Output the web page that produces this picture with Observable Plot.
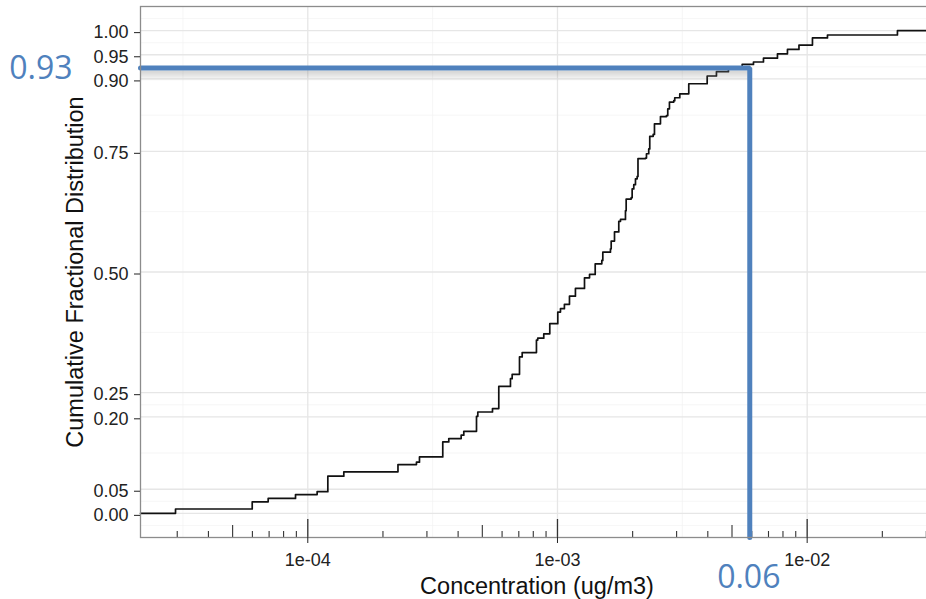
<!DOCTYPE html>
<html><head><meta charset="utf-8">
<script src="https://cdn.jsdelivr.net/npm/d3@7"></script>
<script src="https://cdn.jsdelivr.net/npm/@observablehq/plot@0.6"></script>
<style>
html,body{margin:0;padding:0;background:#fff;overflow:hidden;width:926px;height:599px}
#chart{position:absolute;left:0;top:0;width:933px}
#chart svg{max-width:none !important;width:933px;height:599px}
</style></head><body><div id="chart"></div>
<script>
// ECDF step locations (ug/m3) and cumulative fraction after each step
const concentration = [
  2.953e-5, 5.99e-5, 6.94e-5, 8.93e-5, 1.090e-4, 1.203e-4, 1.394e-4, 2.297e-4, 2.724e-4, 2.801e-4,
  3.472e-4, 3.670e-4, 4.114e-4, 4.215e-4, 4.739e-4, 4.796e-4, 5.492e-4, 5.820e-4, 6.482e-4, 6.585e-4,
  7.045e-4, 7.222e-4, 8.237e-4, 8.336e-4, 8.812e-4, 9.315e-4, 1.0028e-3, 1.028e-3, 1.066e-3, 1.117e-3,
  1.180e-3, 1.283e-3, 1.344e-3, 1.416e-3, 1.505e-3, 1.519e-3, 1.630e-3, 1.641e-3, 1.692e-3, 1.760e-3,
  1.788e-3, 1.872e-3, 1.884e-3, 1.973e-3, 1.991e-3, 2.021e-3, 2.053e-3, 2.085e-3, 2.101e-3, 2.251e-3,
  2.272e-3, 2.320e-3, 2.342e-3, 2.417e-3, 2.446e-3, 2.585e-3, 2.732e-3, 2.765e-3, 2.808e-3, 2.922e-3,
  2.949e-3, 3.089e-3, 3.356e-3, 3.977e-3, 4.332e-3, 4.838e-3, 5.491e-3, 6.095e-3, 6.683e-3, 7.604e-3,
  8.338e-3, 9.272e-3, 1.050e-2, 1.206e-2, 2.299e-2
];
const cumulativeFraction = [
  0.009, 0.024, 0.031, 0.039, 0.045, 0.077, 0.086, 0.101, 0.106, 0.117,
  0.148, 0.155, 0.162, 0.170, 0.201, 0.210, 0.217, 0.263, 0.279, 0.288,
  0.324, 0.333, 0.359, 0.363, 0.372, 0.393, 0.417, 0.424, 0.433, 0.450,
  0.466, 0.488, 0.495, 0.517, 0.524, 0.541, 0.548, 0.564, 0.583, 0.605,
  0.609, 0.627, 0.651, 0.654, 0.672, 0.681, 0.693, 0.698, 0.735, 0.736,
  0.745, 0.755, 0.781, 0.785, 0.807, 0.822, 0.824, 0.838, 0.852, 0.855,
  0.861, 0.869, 0.890, 0.906, 0.915, 0.923, 0.930, 0.935, 0.943, 0.952,
  0.961, 0.970, 0.985, 0.991, 1.0
];
const yTicks = [0, 0.05, 0.2, 0.25, 0.5, 0.75, 0.9, 0.95, 1];
const yMinorGrid = [-0.025, 0.025, 0.125, 0.225, 0.375, 0.625, 0.825, 0.925, 0.975, 1.025];
const xTicks = [1e-4, 1e-3, 1e-2];
const xTickLabels = ["1e-04", "1e-03", "1e-02"];
const xMinorGrid = [3.162e-5, 3.162e-4, 3.162e-3, 3.162e-2];
const logTicks = [
  3e-5, 4e-5, 5e-5, 6e-5, 7e-5, 8e-5, 9e-5,
  1e-4, 2e-4, 3e-4, 4e-4, 5e-4, 6e-4, 7e-4, 8e-4, 9e-4,
  1e-3, 2e-3, 3e-3, 4e-3, 5e-3, 6e-3, 7e-3, 8e-3, 9e-3,
  1e-2, 2e-2, 3e-2
];
const refPoint = {x: 0.00589, y: 0.9224};
const refLabels = ["0.93", "0.06"];
const xDomain = [2.138e-5, 3.206e-2];
const yDomain = [-0.05, 1.05];
const xTitle = "Concentration (ug/m3)";
const yTitle = "Cumulative Fractional Distribution";

const blue = "#4F81BD";
const frameH = 531;
const mant = d => Math.round(d / Math.pow(10, Math.floor(Math.log10(d) + 1e-9)));

const ecdf = [{x: xDomain[0], y: 0}]
  .concat(concentration.map((c, i) => ({x: c, y: cumulativeFraction[i]})))
  .concat([{x: xDomain[1], y: cumulativeFraction[cumulativeFraction.length - 1]}]);

const refPath = [
  {x: xDomain[0], y: refPoint.y},
  {x: refPoint.x, y: refPoint.y},
  {x: refPoint.x, y: yDomain[0]}
];
const shadowRows = [3,4,5,6,7,8,9,10,11,12].map((k, i) => ({x1: xDomain[0], x2: refPoint.x, y: refPoint.y, dy: k, o: 0.34 * (1 - i / 10)}));

const chart = Plot.plot({
  width: 933, height: 599,
  marginTop: 6, marginBottom: 62, marginLeft: 140, marginRight: 0,
  x: {type: "log", domain: xDomain},
  y: {domain: yDomain},
  style: {fontFamily: "'Liberation Sans', Arial, sans-serif", background: "white", overflow: "visible", maxWidth: "none"},
  marks: [
    Plot.ruleY(yMinorGrid, {stroke: "#f2f2f2", strokeWidth: 0.7}),
    Plot.ruleX(xMinorGrid, {stroke: "#f2f2f2", strokeWidth: 0.7}),
    Plot.ruleY(yTicks, {stroke: "#e6e6e6", strokeWidth: 1.3}),
    Plot.ruleX(xTicks, {stroke: "#e6e6e6", strokeWidth: 1.3}),
    Plot.tickX(logTicks.filter(d => mant(d) === 1 || mant(d) === 10), {x: d => d, insetTop: frameH - 18, stroke: "#333", strokeWidth: 1.3}),
    Plot.tickX(logTicks.filter(d => mant(d) === 5), {x: d => d, insetTop: frameH - 12, stroke: "#333", strokeWidth: 1.1}),
    Plot.tickX(logTicks.filter(d => mant(d) !== 1 && mant(d) !== 10 && mant(d) !== 5), {x: d => d, insetTop: frameH - 6, stroke: "#333", strokeWidth: 1.1}),
    Plot.line(ecdf, {x: "x", y: "y", curve: "step-after", stroke: "#111", strokeWidth: 1.7}),
    ...shadowRows.map(r => Plot.ruleY([r], {x1: "x1", x2: "x2", y: "y", dy: r.dy, stroke: "#7a7a7a", strokeOpacity: r.o, strokeWidth: 1})),
    Plot.line(refPath, {x: "x", y: "y", stroke: blue, strokeWidth: 5, strokeLinejoin: "miter"}),
    Plot.frame({stroke: "#8c8c8c", strokeWidth: 1.3}),
    Plot.axisY({ticks: yTicks, tickFormat: d3.format(".2f"), tickSize: 6, tickPadding: 6, fontSize: 18, label: null, color: "#222", dy: 2}),
    Plot.axisX({ticks: xTicks, tickFormat: d => xTickLabels[xTicks.indexOf(d)], tickSize: 6, tickPadding: 10, fontSize: 18, label: null, color: "#222"}),
    Plot.text([yTitle], {text: d => d, frameAnchor: "left", textAnchor: "middle", dx: -65, rotate: -90, fontSize: 23.5, fill: "#111"}),
    Plot.text([xTitle], {text: d => d, frameAnchor: "bottom", textAnchor: "middle", lineAnchor: "bottom", dy: 56, fontSize: 23.5, fill: "#111"}),
    Plot.text([{x: xDomain[0], y: refPoint.y, t: refLabels[0]}], {x: "x", y: "y", text: "t", textAnchor: "end", dx: -68, dy: 1, fontSize: 32, fill: blue, fontFamily: "'Open Sans', sans-serif"}),
    Plot.text([{x: refPoint.x, t: refLabels[1]}], {x: "x", text: "t", frameAnchor: "bottom", textAnchor: "middle", lineAnchor: "bottom", dx: -1, dy: 50, fontSize: 32, fill: blue, fontFamily: "'Open Sans', sans-serif"})
  ]
});
document.getElementById("chart").appendChild(chart);
</script></body></html>
